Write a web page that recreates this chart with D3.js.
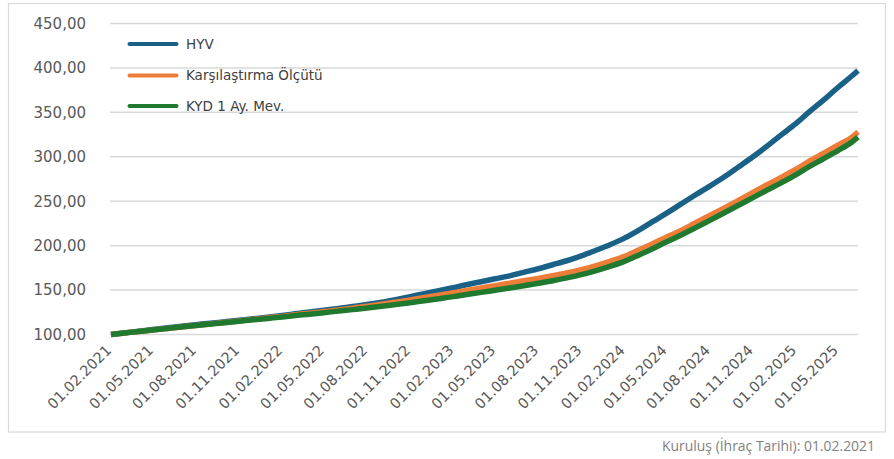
<!DOCTYPE html>
<html>
<head>
<meta charset="utf-8">
<script src="https://cdn.jsdelivr.net/npm/d3@7"></script>
<style>
  body { margin: 0; background: #fff; }
  svg { display: block; }
</style>
</head>
<body>
<div id="chart"></div>
<script>
// monthly readings, first day of each month, last point is the final day shown
const dates = [
  "01.02.2021","01.03.2021","01.04.2021","01.05.2021","01.06.2021","01.07.2021","01.08.2021","01.09.2021","01.10.2021","01.11.2021","01.12.2021",
  "01.01.2022","01.02.2022","01.03.2022","01.04.2022","01.05.2022","01.06.2022","01.07.2022","01.08.2022","01.09.2022","01.10.2022","01.11.2022","01.12.2022",
  "01.01.2023","01.02.2023","01.03.2023","01.04.2023","01.05.2023","01.06.2023","01.07.2023","01.08.2023","01.09.2023","01.10.2023","01.11.2023","01.12.2023",
  "01.01.2024","01.02.2024","01.03.2024","01.04.2024","01.05.2024","01.06.2024","01.07.2024","01.08.2024","01.09.2024","01.10.2024","01.11.2024","01.12.2024",
  "01.01.2025","01.02.2025","01.03.2025","01.04.2025","01.05.2025","01.06.2025","13.06.2025"
];
const hyv = [
  100, 101.8, 103.7, 105.7, 107.5, 109.3, 111, 112.7, 114.3, 116, 117.6,
  119.3, 121.3, 123.3, 125.3, 127.3, 129.4, 131.5, 133.7, 136.2, 139.2, 142.6, 146,
  149.3, 152.6, 156, 159.3, 162.7, 166, 170, 174, 178.5, 183, 188.5, 194.5,
  201, 208.5, 217, 227, 236.5, 247, 257, 267, 277.5, 288.5, 300, 312,
  325, 337.5, 350.5, 364, 378, 391.5, 397
];
const olcut = [
  100, 101.7, 103.4, 105.1, 106.8, 108.5, 110.2, 111.9, 113.6, 115.3, 117,
  118.7, 120.4, 122.2, 124, 125.8, 127.7, 129.7, 131.8, 134, 136.4, 139, 141.7,
  144.3, 147, 149.6, 152.3, 155, 157.7, 160.4, 163.2, 166.2, 169.4, 173, 177.3,
  182.3, 188, 194.8, 202.2, 209.8, 217.2, 225.5, 234, 242.5, 251, 260, 268.5,
  277, 286, 295, 304, 313, 322.5, 328
];
const kyd = [
  100, 101.7, 103.4, 105.1, 106.8, 108.5, 110.1, 111.7, 113.3, 114.9, 116.5,
  118.1, 119.7, 121.3, 122.9, 124.6, 126.3, 128, 129.8, 131.7, 133.7, 135.8, 138,
  140.3, 142.6, 145, 147.4, 149.8, 152.3, 154.9, 157.6, 160.5, 163.7, 167.3, 171.6,
  176.6, 182.3, 189, 196.5, 204.3, 212, 220, 228.5, 237, 245.5, 254, 262.5,
  271, 280, 289, 298, 307, 317, 322
];
const seriesNames = ["HYV", "Karşılaştırma Ölçütü", "KYD 1 Ay. Mev."];
const seriesColors = ["#1a6188", "#ee7d3a", "#1f7a2f"];
const yTicks = [100, 150, 200, 250, 300, 350, 400, 450];
const tickDates = [
  "01.02.2021","01.05.2021","01.08.2021","01.11.2021","01.02.2022","01.05.2022","01.08.2022","01.11.2022",
  "01.02.2023","01.05.2023","01.08.2023","01.11.2023","01.02.2024","01.05.2024","01.08.2024","01.11.2024",
  "01.02.2025","01.05.2025"
];
const footnote = "Kuruluş (İhraç Tarihi): 01.02.2021";

const width = 894, height = 459;
const parse = d3.timeParse("%d.%m.%Y");

const svg = d3.select("#chart").append("svg")
  .attr("width", width)
  .attr("height", height);

// outer frame
svg.append("rect")
  .attr("x", 8.5).attr("y", 3.5)
  .attr("width", 877).attr("height", 428.5)
  .attr("fill", "none")
  .attr("stroke", "#d9d9d9")
  .attr("stroke-width", 1.2);

const x = d3.scaleTime()
  .domain([parse(dates[0]), parse(dates[dates.length - 1])])
  .range([111, 858]);

const y = d3.scaleLinear()
  .domain([100, 450])
  .range([334.5, 23.5]);

// grid
svg.append("g")
  .selectAll("line")
  .data(yTicks)
  .enter()
  .append("line")
  .attr("x1", 110).attr("x2", 858)
  .attr("y1", d => y(d)).attr("y2", d => y(d))
  .attr("stroke", "#d9d9d9")
  .attr("stroke-width", 1.5);

// y labels
svg.append("g")
  .selectAll("text")
  .data(yTicks)
  .enter()
  .append("text")
  .attr("x", 86)
  .attr("y", d => y(d))
  .attr("dy", "0.36em")
  .attr("text-anchor", "end")
  .style("font-family", "DejaVu Sans")
  .style("font-size", "15px")
  .style("fill", "#595959")
  .text(d => d3.format(".2f")(d).replace(".", ","));

// x labels
svg.append("g")
  .selectAll("text")
  .data(tickDates)
  .enter()
  .append("text")
  .attr("transform", d => "translate(" + (x(parse(d)) - 6) + ",344) rotate(-45)")
  .attr("text-anchor", "end")
  .attr("dy", "0.7em")
  .style("font-family", "DejaVu Sans")
  .style("font-size", "14.5px")
  .style("fill", "#595959")
  .text(d => d);

// lines
const allSeries = [hyv, olcut, kyd];
const line = d3.line()
  .x((d, i) => x(parse(dates[i])))
  .y(d => y(d))
  .curve(d3.curveMonotoneX);

svg.append("g")
  .selectAll("path")
  .data(allSeries)
  .enter()
  .append("path")
  .attr("d", d => line(d))
  .attr("fill", "none")
  .attr("stroke", (d, i) => seriesColors[i])
  .attr("stroke-width", 5.5)
  .attr("stroke-linejoin", "round");

// legend
const legend = svg.append("g")
  .selectAll("g")
  .data(seriesNames)
  .enter()
  .append("g")
  .attr("transform", (d, i) => "translate(128," + [44, 75.5, 106][i] + ")");

legend.append("line")
  .attr("x1", 1.5).attr("x2", 48.5)
  .attr("stroke", (d, i) => seriesColors[i])
  .attr("stroke-width", 4)
  .attr("stroke-linecap", "round");

legend.append("text")
  .attr("x", 58)
  .attr("dy", "0.36em")
  .style("font-family", "DejaVu Sans")
  .style("font-size", "13.5px")
  .style("fill", "#404040")
  .text(d => d);

// footnote
svg.append("text")
  .attr("x", 875)
  .attr("y", 451)
  .attr("text-anchor", "end")
  .attr("textLength", 213)
  .attr("lengthAdjust", "spacingAndGlyphs")
  .style("font-family", "Open Sans")
  .style("font-size", "15px")
  .style("fill", "#7f7f7f")
  .text(footnote);
</script>
</body>
</html>
